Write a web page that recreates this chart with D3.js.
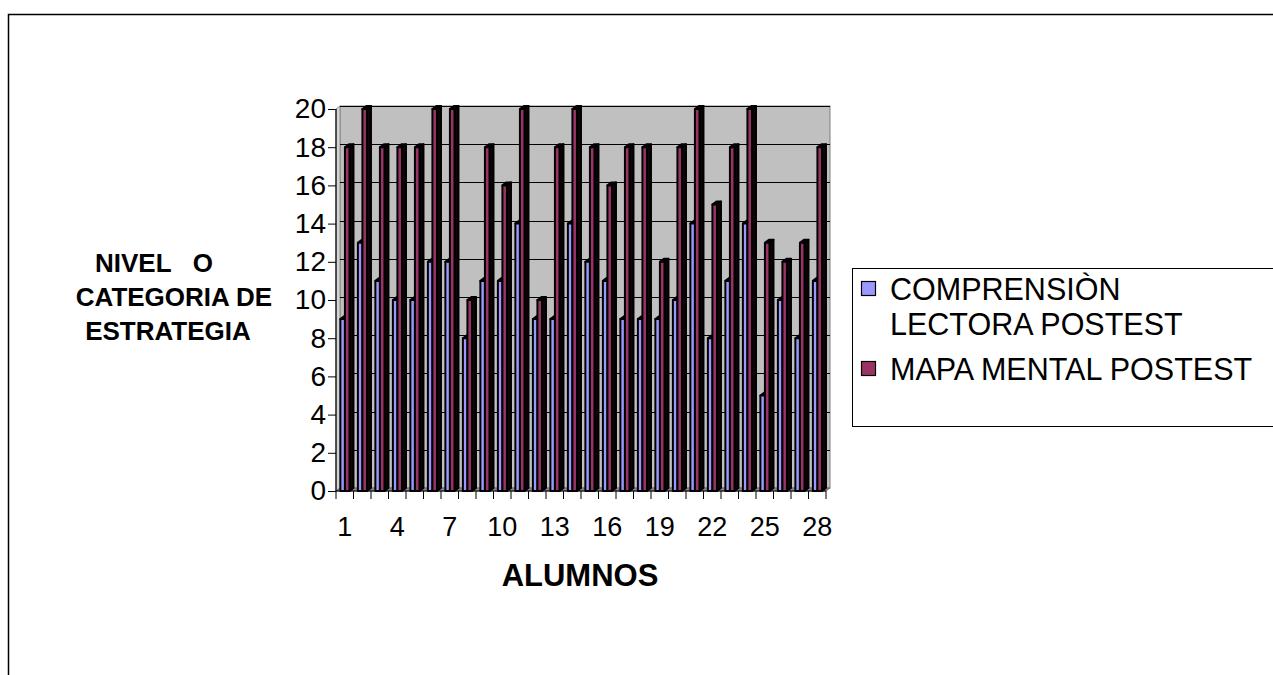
<!DOCTYPE html>
<html>
<head>
<meta charset="utf-8">
<script src="https://cdn.jsdelivr.net/npm/d3@7"></script>
<style>
  html, body { margin: 0; padding: 0; background: #ffffff; }
  svg { display: block; }
  text { font-family: "Liberation Sans", Arial, sans-serif; fill: #000; }
</style>
</head>
<body>
<svg id="chart" width="1273" height="675"></svg>
<script>
// Students (1..28)
const alumnos = d3.range(1, 29);
// Reading comprehension post-test scores
const comprension = [9, 13, 11, 10, 10, 12, 12, 8, 11, 11, 14, 9, 9, 14, 12, 11, 9, 9, 9, 10, 14, 8, 11, 14, 5, 10, 8, 11];
// Mind-map post-test scores
const mapaMental = [18, 20, 18, 18, 18, 20, 20, 10, 18, 16, 20, 10, 18, 20, 18, 16, 18, 18, 12, 18, 20, 15, 18, 20, 13, 12, 13, 18];
const seriesNames = ["COMPRENSIÒN LECTORA POSTEST", "MAPA MENTAL POSTEST"];
const seriesColors = ["#9999FF", "#993366"];
const sideColors = ["#0a0a14", "#0d0508"];
const yTicks = d3.range(0, 21, 2);
const xTickLabels = [1, 4, 7, 10, 13, 16, 19, 22, 25, 28];

const svg = d3.select("#chart");

// outer chart frame (top and left edges visible)
svg.append("path")
  .attr("d", "M8.5,675 L8.5,14.5 L1273,14.5")
  .attr("fill", "none").attr("stroke", "#000").attr("stroke-width", 1.5);

// front-plane geometry and 3D depth offset
const plotLeft = 336, plotRight = 826, plotBottom = 491, plotTop = 109;
const dx = 4, dy = -3;

const x = d3.scaleBand().domain(alumnos).range([plotLeft, plotRight]).padding(0);
const y = d3.scaleLinear().domain([0, 20]).range([plotBottom, plotTop]);
const bw = x.bandwidth();
const xs = d3.scaleBand().domain([0, 1]).range([bw * 0.25, bw * 0.77]).padding(0);

// back wall
svg.append("rect")
  .attr("x", plotLeft + dx).attr("y", y(20) + dy)
  .attr("width", plotRight - plotLeft).attr("height", plotBottom - plotTop)
  .attr("fill", "#C0C0C0").attr("stroke", "#808080").attr("stroke-width", 1);

// side wall
svg.append("path")
  .attr("d", `M${plotLeft},${y(20)} L${plotLeft + dx},${y(20) + dy} L${plotLeft + dx},${plotBottom + dy} L${plotLeft},${plotBottom} Z`)
  .attr("fill", "#d4d4d4").attr("stroke", "#808080").attr("stroke-width", 0.8);

// floor
svg.append("path")
  .attr("d", `M${plotLeft},${plotBottom} L${plotLeft + dx},${plotBottom + dy} L${plotRight + dx},${plotBottom + dy} L${plotRight},${plotBottom} Z`)
  .attr("fill", "#8c8c8c").attr("stroke", "#606060").attr("stroke-width", 0.8);

// gridlines on the back wall
svg.append("g").selectAll("line")
  .data(yTicks.filter(d => d > 0))
  .join("line")
  .attr("x1", plotLeft + dx).attr("x2", plotRight + dx)
  .attr("y1", d => Math.round(y(d) + dy) + 0.5).attr("y2", d => Math.round(y(d) + dy) + 0.5)
  .attr("stroke", "#000").attr("stroke-width", 1);

// columns
const bars = [];
alumnos.forEach((a, i) => {
  bars.push({ a, s: 0, v: comprension[i] });
  bars.push({ a, s: 1, v: mapaMental[i] });
});

const g = svg.append("g").attr("stroke", "#000").attr("stroke-width", 2).attr("stroke-linejoin", "round");
bars.forEach(b => {
  const x0 = x(b.a) + xs(b.s);
  const w = xs.bandwidth();
  const yt = y(b.v);
  // side face
  g.append("path")
    .attr("d", `M${x0 + w},${yt} L${x0 + w + dx},${yt + dy} L${x0 + w + dx},${plotBottom + dy} L${x0 + w},${plotBottom} Z`)
    .attr("fill", sideColors[b.s]);
  // top face
  g.append("path")
    .attr("d", `M${x0},${yt} L${x0 + dx},${yt + dy} L${x0 + w + dx},${yt + dy} L${x0 + w},${yt} Z`)
    .attr("fill", sideColors[b.s]);
  // front face
  g.append("rect")
    .attr("x", x0).attr("y", yt).attr("width", w).attr("height", plotBottom - yt)
    .attr("fill", seriesColors[b.s]);
});

// Y axis
const yAxis = d3.axisLeft(y).tickValues(yTicks).tickSize(8).tickPadding(2);
const ya = svg.append("g").attr("transform", `translate(${plotLeft},0)`).call(yAxis);
ya.select(".domain").attr("stroke", "#000").attr("stroke-width", 1.2).attr("d", `M0,${plotTop}V${plotBottom}`);
ya.selectAll(".tick line").attr("stroke", "#000");
ya.selectAll(".tick text").attr("font-size", 28).attr("font-family", "Liberation Sans, Arial, sans-serif").attr("fill", "#000");

// X axis: ticks at category boundaries, labels every third student
const xa = svg.append("g").attr("transform", `translate(0,${plotBottom})`);
xa.append("line").attr("x1", plotLeft).attr("x2", plotRight).attr("y1", 0).attr("y2", 0)
  .attr("stroke", "#000").attr("stroke-width", 1.2);
xa.selectAll("line.tk")
  .data(alumnos.concat([null]))
  .join("line").attr("class", "tk")
  .attr("x1", d => d === null ? plotRight : x(d)).attr("x2", d => d === null ? plotRight : x(d))
  .attr("y1", 0).attr("y2", 8)
  .attr("stroke", "#000");
xa.selectAll("text")
  .data(xTickLabels)
  .join("text")
  .attr("x", d => x(d) + bw / 2)
  .attr("y", 45)
  .attr("text-anchor", "middle")
  .attr("font-size", 27)
  .text(d => d);

// axis titles
const yTitle = ["NIVEL   O", "CATEGORIA DE", "ESTRATEGIA"];
svg.append("text")
  .attr("font-size", 26).attr("font-weight", "bold").attr("text-anchor", "middle")
  .style("white-space", "pre")
  .selectAll("tspan").data(yTitle).join("tspan")
  .attr("x", (d, i) => [154, 174, 168][i])
  .attr("y", (d, i) => 272 + i * 34)
  .text(d => d);

svg.append("text")
  .attr("x", 580).attr("y", 586)
  .attr("text-anchor", "middle")
  .attr("font-size", 31).attr("font-weight", "bold")
  .text("ALUMNOS");

// legend
const lg = svg.append("g");
lg.append("rect")
  .attr("x", 852.5).attr("y", 268.5).attr("width", 440).attr("height", 158)
  .attr("fill", "#fff").attr("stroke", "#000").attr("stroke-width", 1);
const legendRows = [
  { s: 0, lines: ["COMPRENSIÒN", "LECTORA POSTEST"], sq: 281.5, base: 300 },
  { s: 1, lines: ["MAPA MENTAL POSTEST"], sq: 361.5, base: 380 }
];
legendRows.forEach(r => {
  lg.append("rect")
    .attr("x", 861.5).attr("y", r.sq).attr("width", 14).attr("height", 14)
    .attr("fill", seriesColors[r.s]).attr("stroke", "#000").attr("stroke-width", 1.2);
  lg.append("text")
    .attr("font-size", 30.5)
    .selectAll("tspan").data(r.lines).join("tspan")
    .attr("x", 890).attr("y", (d, i) => r.base + i * 35)
    .text(d => d);
});
</script>
</body>
</html>
